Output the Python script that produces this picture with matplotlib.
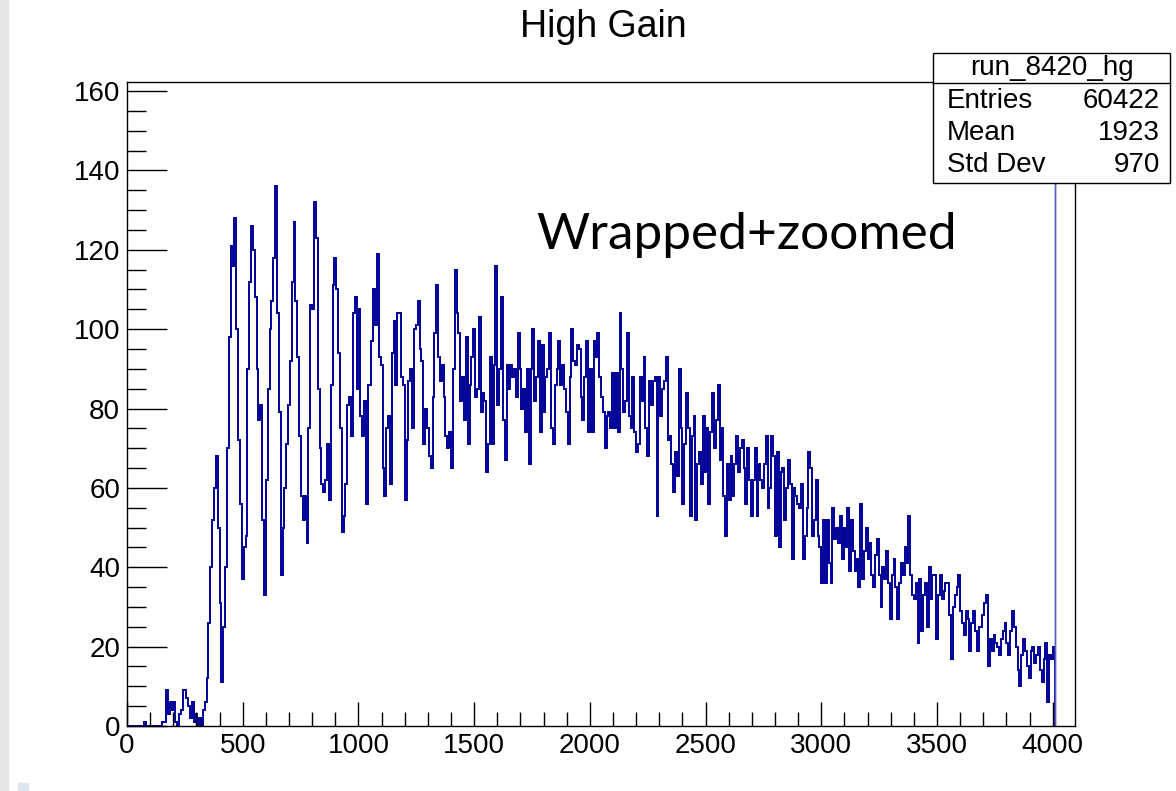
import numpy as np
import matplotlib
matplotlib.use("Agg")
import matplotlib.pyplot as plt
from matplotlib.ticker import MultipleLocator
from matplotlib.patches import Rectangle
from matplotlib.lines import Line2D

plt.rcParams['font.family'] = ['Liberation Sans', 'DejaVu Sans']

# histogram, 8 ADC counts per bin starting at 0
bin_width = 8
counts_low = [0, 0, 0, 0, 0, 0, 0, 0, 0, 1, 0, 0, 0, 0, 0, 0, 0, 0, 0, 1,
              1, 9, 3, 6, 4, 6, 1, 0, 3, 4, 9, 9, 7, 5, 2, 6, 1, 3, 0, 2,
              0, 4, 6, 12]
counts_peaks = [26, 40, 52, 60, 68, 50, 31, 11, 25, 40, 70, 98, 121, 116, 128, 100,
                72, 56, 37, 45, 48, 90, 112, 126, 120, 108, 90, 77, 81, 52, 33, 62,
                85, 100, 107, 118, 136, 104, 79, 38, 50, 60,
                71, 81, 92, 112, 127, 107, 93, 73, 58, 52, 58, 46, 75, 106, 105, 132,
                123, 85, 70, 61, 59, 62, 71, 57, 86, 111, 118, 110, 94, 75, 49, 53,
                61, 81, 83, 73, 104, 108, 85, 105, 78, 73, 82, 56, 86, 86, 97, 110,
                101, 119, 93, 91, 65, 58, 75, 78, 61, 94, 102, 86, 104, 104, 88, 86,
                57, 72, 87, 90, 75, 100, 101, 107, 95, 92, 71, 80, 75, 68, 65, 83,
                99, 111, 93, 87, 91, 83, 73]
counts_plateau = [70, 74, 65, 90, 115, 104, 99, 82, 88, 77, 98, 71, 86, 93, 100, 83,
                  85, 103, 79, 84, 82, 64, 71, 93, 71, 91, 116, 81, 90, 108, 77, 67,
                  91, 85, 91, 88, 90, 83, 99, 90, 80, 85, 74, 90, 66, 90, 100, 82,
                  88, 97, 74, 96, 79, 88, 90, 99, 75, 71, 86, 90, 97, 86, 91, 85,
                  79, 71, 88, 100, 92, 91, 96, 95, 83, 77, 88, 97, 74, 90, 74, 97,
                  93, 99, 88, 83, 79, 70]
counts_fall = [78, 79, 75, 89, 75, 89, 74, 104, 90, 79, 82, 99, 78, 75, 88, 74,
               69, 71, 88, 82, 93, 75, 68, 87, 81, 87, 88, 53, 88, 78, 85, 87,
               93, 72, 73, 66, 59, 69, 63, 90, 75, 56, 71, 84, 75, 53, 73, 78,
               52, 66, 69, 61, 78, 64, 75, 56, 74, 84, 70, 77, 86, 67, 75, 58,
               48, 66, 57, 68, 58, 66, 73, 64, 70, 72, 65, 56, 70, 62, 53, 62,
               70, 53, 66, 62, 60, 66]
counts_tail = [73, 55, 60, 73, 68, 48, 69, 45, 64, 65, 52, 60, 67, 61, 42, 60,
               58, 56, 55, 61, 42, 48, 55, 69, 65, 48, 52, 62, 48, 45, 36, 52,
               36, 52, 41, 36, 55, 47, 50, 46, 53, 42, 50, 45, 55, 39, 52, 44,
               39, 42, 35, 56, 37, 44, 50, 42, 46, 38, 35, 43, 47, 38, 30, 40,
               37, 44, 36, 27, 38, 42, 35, 27, 36, 41, 38, 45, 41, 53, 38, 33,
               32, 36, 21, 37, 24, 33]
counts_end = [36, 25, 40, 32, 38, 38, 22, 33, 38, 32, 34, 36, 36, 28, 17, 30,
              33, 35, 38, 29, 26, 23, 29, 27, 19, 26, 29, 24, 19, 25, 25, 28,
              31, 33, 15, 22, 19, 23, 21, 20, 18, 22, 24, 26, 21, 18, 24, 29,
              25, 20, 14, 10, 18, 22, 19, 15, 12, 19, 20, 16, 18, 20, 14, 11,
              17, 21, 6, 18, 17, 20]
overflow_count = 1000   # wrapped channel, far above the frame
overflow_width = 2

counts = np.array(counts_low + counts_peaks + counts_plateau + counts_fall
                  + counts_tail + counts_end, dtype=float)
edges = np.arange(len(counts) + 1) * bin_width

stats_name = "run_8420_hg"
stats_rows = [("Entries", "60422"), ("Mean", "1923"), ("Std Dev", "970")]

fig = plt.figure(figsize=(11.76, 7.91), dpi=100)
fig.patches.append(Rectangle((0, 0), 8 / 1176, 1, transform=fig.transFigure,
                             color='#e6e6e6', zorder=0))
fig.patches.append(Rectangle((18 / 1176, 0), 10 / 1176, 8 / 791, transform=fig.transFigure,
                             color='#dfe6f0', zorder=0))

ax = fig.add_axes([127 / 1176, 1 - 726 / 791, 948 / 1176, (726 - 81.5) / 791])
ax.stairs(counts, edges, color='#000096', lw=1.4)
ax.stairs([overflow_count], [edges[-1], edges[-1] + overflow_width],
          color='#5c5cc4', lw=1.0)

ax.set_xlim(0, 4096)
ax.set_ylim(0, 162.4)
ax.xaxis.set_major_locator(MultipleLocator(500))
ax.xaxis.set_minor_locator(MultipleLocator(100))
ax.yaxis.set_major_locator(MultipleLocator(20))
ax.yaxis.set_minor_locator(MultipleLocator(5))
ax.tick_params(axis='both', which='both', direction='in', top=False, right=False,
               labelsize=20, width=1)
ax.tick_params(axis='x', which='major', length=17, pad=5)
ax.tick_params(axis='x', which='minor', length=10)
ax.tick_params(axis='y', which='major', length=29, pad=5)
ax.tick_params(axis='y', which='minor', length=14)
for s in ax.spines.values():
    s.set_linewidth(1)

fig.text(603 / 1176, 1 - 27 / 791, "High Gain", ha='center', va='center', fontsize=27)
fig.text(747 / 1176, 1 - 235 / 791, "Wrapped+zoomed", ha='center', va='center',
         fontsize=37, family=['Lato', 'DejaVu Sans'], color='black')

# stats box
x0, x1 = 933 / 1176, 1170 / 1176
y0, y1 = 1 - 183 / 791, 1 - 53 / 791
fig.patches.append(Rectangle((x0, y0), x1 - x0, y1 - y0, transform=fig.transFigure,
                             facecolor='white', edgecolor='black', lw=1, zorder=5))
fig.lines.append(Line2D([x0, x1], [1 - 83 / 791] * 2, transform=fig.transFigure,
                        color='black', lw=1, zorder=6))
fig.text((x0 + x1) / 2, 1 - 68 / 791, stats_name, ha='center', va='center',
         fontsize=20, zorder=7)
for i, (lab, val) in enumerate(stats_rows):
    yy = 1 - (101 + 32 * i) / 791
    fig.text(947 / 1176, yy, lab, ha='left', va='center', fontsize=20, zorder=7)
    fig.text(1160 / 1176, yy, val, ha='right', va='center', fontsize=20, zorder=7)

fig.savefig("out.png", dpi=100)
